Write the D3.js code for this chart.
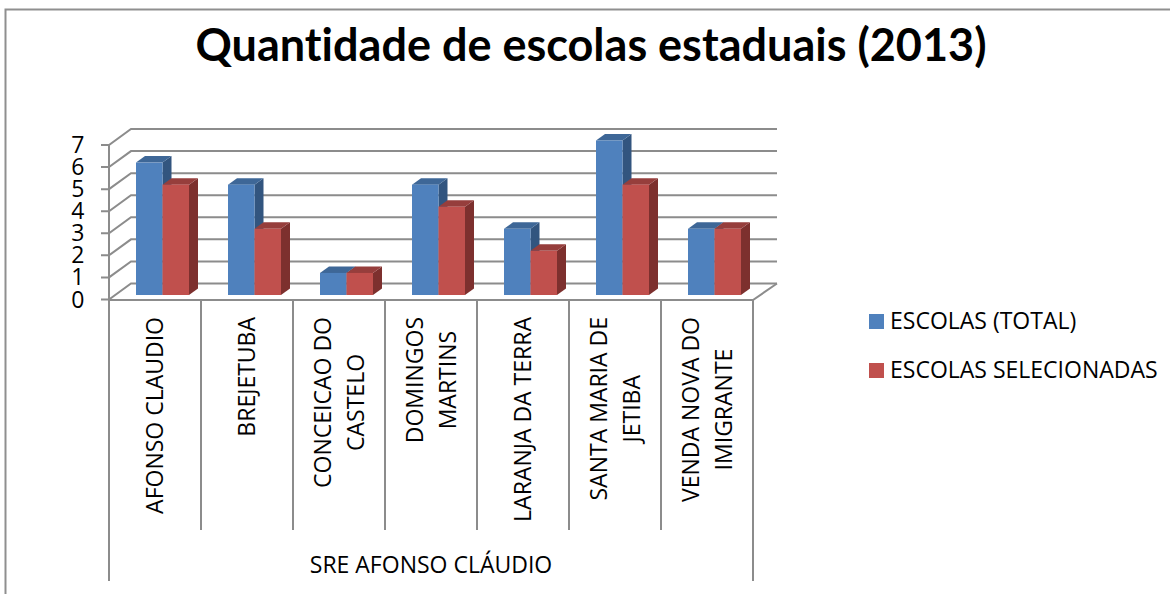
<!DOCTYPE html>
<html>
<head>
<meta charset="utf-8">
<script src="https://cdn.jsdelivr.net/npm/d3@7"></script>
<style>
body { margin: 0; background: #fff; }
text { font-family: "Open Sans", sans-serif; fill: #000; }
text.title { font-family: Lato, "Open Sans", sans-serif; font-variant-ligatures: none; }
</style>
</head>
<body>
<div id="chart"></div>
<script>
var categories = [
    ["AFONSO CLAUDIO"],
    ["BREJETUBA"],
    ["CONCEICAO DO", "CASTELO"],
    ["DOMINGOS", "MARTINS"],
    ["LARANJA DA TERRA"],
    ["SANTA MARIA DE", "JETIBA"],
    ["VENDA NOVA DO", "IMIGRANTE"]
];
var total = [6, 5, 1, 5, 3, 7, 3];
var selecionadas = [5, 3, 1, 4, 2, 5, 3];
var yTicks = [0, 1, 2, 3, 4, 5, 6, 7];
var seriesNames = ["ESCOLAS (TOTAL)", "ESCOLAS SELECIONADAS"];
var groupLabel = "SRE AFONSO CLÁUDIO";
var title = "Quantidade de escolas estaduais (2013)";

var W = 1170, H = 594;
var depthX = 22, depthY = 16;      // floor depth of the 3d box
var barDX = 9, barDY = 6.5;        // depth of one bar

var svg = d3.select("#chart").append("svg")
    .attr("width", W)
    .attr("height", H)
    .style("display", "block");

var x = d3.scaleBand()
    .domain(d3.range(categories.length))
    .range([109, 753]);

var y = d3.scaleLinear()
    .domain([0, 7])
    .range([299.5, 145]);

var gridColor = "#8c8c8c";
var colors = [
    { front: "#4f81bd", top: "#3e6797", side: "#32557f" },
    { front: "#c0504d", top: "#963e3c", side: "#7d302e" }
];

// chart border (only top and left are visible in the crop)
svg.append("path")
    .attr("d", "M5.5," + H + "V9.5H" + W)
    .attr("fill", "none")
    .attr("stroke", "#8f8f8f")
    .attr("stroke-width", 2);

svg.append("text")
    .attr("class", "title")
    .attr("x", 591)
    .attr("y", 61)
    .attr("text-anchor", "middle")
    .attr("font-size", 45)
    .attr("font-weight", 700)
    .text(title);

// back wall gridlines and side wall
var grid = svg.append("g")
    .attr("fill", "none")
    .attr("stroke", gridColor)
    .attr("stroke-width", 2);

yTicks.forEach(function(t) {
    grid.append("path")
        .attr("d", "M" + (x.range()[0] - 8) + "," + y(t) +
            "H" + x.range()[0] +
            "L" + (x.range()[0] + depthX) + "," + (y(t) - depthY) +
            "H" + (x.range()[1] + 24));
});

// floor front edge, right floor edge and left axis
grid.append("path")
    .attr("d", "M" + x.range()[0] + "," + y(0) + "V" + y(7));
grid.append("path")
    .attr("d", "M" + x.range()[0] + "," + (y(0) + 0.5) + "H" + x.range()[1] +
        "L" + (x.range()[1] + 24) + "," + (y(0) - depthY));

// separators under the categories
d3.range(categories.length + 1).forEach(function(i) {
    var px = i == categories.length ? x.range()[1] : x(i);
    var isEnd = i == 0 || i == categories.length;
    grid.append("line")
        .attr("x1", px).attr("x2", px)
        .attr("y1", y(0))
        .attr("y2", isEnd ? 581 : 530);
});

yTicks.forEach(function(t) {
    svg.append("text")
        .attr("x", 84.5)
        .attr("y", y(t) + 8)
        .attr("text-anchor", "end")
        .attr("font-size", 23)
        .text(t);
});

// bars, blue first so the red covers its side
var barBase = 295;
var unit = y(0) - y(1);
var barW = 26.5;
var barStart = 27;

[total, selecionadas].forEach(function(values, s) {
    var c = colors[s];
    var g = svg.append("g").attr("class", "series" + s);
    values.forEach(function(v, i) {
        var x0 = x(i) + barStart + s * barW;
        var x1 = x0 + barW;
        var top = barBase - v * unit;
        g.append("polygon")
            .attr("points", [[x1, top], [x1 + barDX, top - barDY], [x1 + barDX, barBase - barDY], [x1, barBase]].join(" "))
            .attr("fill", c.side);
        g.append("polygon")
            .attr("points", [[x0, top], [x0 + barDX, top - barDY], [x1 + barDX, top - barDY], [x1, top]].join(" "))
            .attr("fill", c.top);
        g.append("rect")
            .attr("x", x0)
            .attr("y", top)
            .attr("width", barW)
            .attr("height", v * unit)
            .attr("fill", c.front);
    });
});

// rotated category labels, lines centred on each other and hung from the axis
categories.forEach(function(lines, i) {
    var cx = x(i) + x.bandwidth() / 2;
    var t = svg.append("text")
        .attr("text-anchor", "middle")
        .attr("font-size", 23);
    lines.forEach(function(line, k) {
        t.append("tspan")
            .attr("x", 0)
            .attr("y", (k - (lines.length - 1) / 2) * 33 + 8)
            .text(line);
    });
    var longest = d3.max(t.selectAll("tspan").nodes(), function(n) { return n.getComputedTextLength(); });
    t.attr("transform", "translate(" + cx + "," + (317 + longest / 2) + ") rotate(-90)");
});

svg.append("text")
    .attr("x", 431)
    .attr("y", 573)
    .attr("text-anchor", "middle")
    .attr("font-size", 23)
    .text(groupLabel);

// legend
var legendY = d3.scalePoint().domain(seriesNames).range([321.5, 370.5]);
seriesNames.forEach(function(name, s) {
    svg.append("rect")
        .attr("x", 869)
        .attr("y", legendY(name) - 7.5)
        .attr("width", 15)
        .attr("height", 15)
        .attr("fill", colors[s].front);
    svg.append("text")
        .attr("x", 890)
        .attr("y", legendY(name) + 7)
        .attr("font-size", 23)
        .text(name);
});
</script>
</body>
</html>
